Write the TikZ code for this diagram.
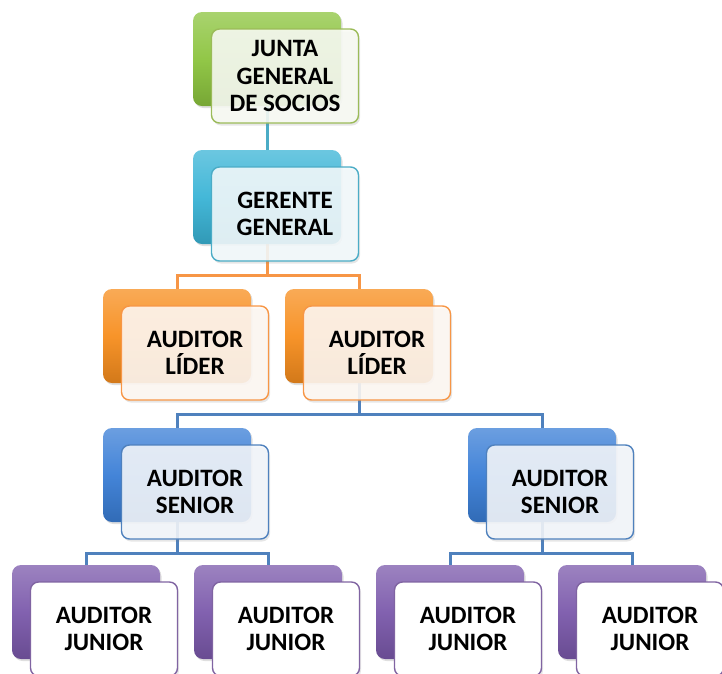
\documentclass[tikz,border=0pt]{standalone}
\usepackage{fontspec}
\setmainfont{Carlito}
\usetikzlibrary{calc,shadows,backgrounds}
\definecolor{grn}{HTML}{8CC43E}
\definecolor{cya}{HTML}{3AB4D6}
\definecolor{org}{HTML}{F78E1E}
\definecolor{blb}{HTML}{3A7ED6}
\definecolor{pur}{HTML}{7B59AB}
\definecolor{grnl}{HTML}{9BBB59}
\definecolor{cyal}{HTML}{4BACC6}
\definecolor{orgl}{HTML}{F79646}
\definecolor{blbl}{HTML}{4F81BD}
\definecolor{purl}{HTML}{8064A2}
\tikzset{
  back/.style={rounded corners=9pt, minimum width=148pt, minimum height=94pt, inner sep=0pt},
  front/.style={rounded corners=8pt, minimum width=147pt, minimum height=94pt, inner sep=0pt,
    line width=1.4pt, text opacity=1, align=center,
    font=\bfseries\fontsize{25}{27.5}\selectfont},
  soft/.style={fill=#1!6!white, fill opacity=0.88},
  solid/.style={fill=white},
  link/.style={line width=3pt}
}
\def\orgbox(#1,#2,#3,#4,#5,#6){
  \node[back, top color=#4!75!white, bottom color=#4!85!black, middle color=#4!95!white,
    drop shadow={opacity=0.25, shadow xshift=1.5pt, shadow yshift=-2pt}] (#1_bk) at (#2,#3) {};
  \node[front, draw=#4l, #5=#4l,
    drop shadow={opacity=0.2, shadow xshift=1.5pt, shadow yshift=-2.5pt}] (#1_fr) at (#2+18,#3+17) {#6};
}

\begin{document}
\begin{tikzpicture}[x=1pt, y=-1pt]
\useasboundingbox (0,0) rectangle (722,673);
\orgbox(junta,267,59,grn,soft,JUNTA\\GENERAL\\DE SOCIOS)
\orgbox(gerente,267,197,cya,soft,GERENTE\\GENERAL)
\orgbox(lider1,177,336,org,soft,AUDITOR\\LÍDER)
\orgbox(lider2,359,336,org,soft,AUDITOR\\LÍDER)
\orgbox(senior1,177,475,blb,soft,AUDITOR\\SENIOR)
\orgbox(senior2,542,475,blb,soft,AUDITOR\\SENIOR)
\orgbox(junior1,86,612,pur,solid,AUDITOR\\JUNIOR)
\orgbox(junior2,268,612,pur,solid,AUDITOR\\JUNIOR)
\orgbox(junior3,450,612,pur,solid,AUDITOR\\JUNIOR)
\orgbox(junior4,632,612,pur,solid,AUDITOR\\JUNIOR)
\coordinate (fork_a) at (gerente_bk.south |- 0,275);
\coordinate (fork_b) at (lider2_bk.south |- 0,414);
\coordinate (fork_c) at (senior1_bk.south |- 0,553);
\coordinate (fork_d) at (senior2_bk.south |- 0,553);
\begin{pgfonlayer}{background}
\draw [link, cyal] (junta_bk.south) -- (gerente_bk.north);
\draw [link, orgl] (gerente_bk.south) -- (fork_a) -| (lider1_bk.north);
\draw [link, orgl] (fork_a) -| (lider2_bk.north);
\draw [link, blbl] (lider2_bk.south) -- (fork_b) -| (senior1_bk.north);
\draw [link, blbl] (fork_b) -| (senior2_bk.north);
\draw [link, blbl] (senior1_bk.south) -- (fork_c) -| (junior1_bk.north);
\draw [link, blbl] (fork_c) -| (junior2_bk.north);
\draw [link, blbl] (senior2_bk.south) -- (fork_d) -| (junior3_bk.north);
\draw [link, blbl] (fork_d) -| (junior4_bk.north);
\end{pgfonlayer}
\end{tikzpicture}
\end{document}
